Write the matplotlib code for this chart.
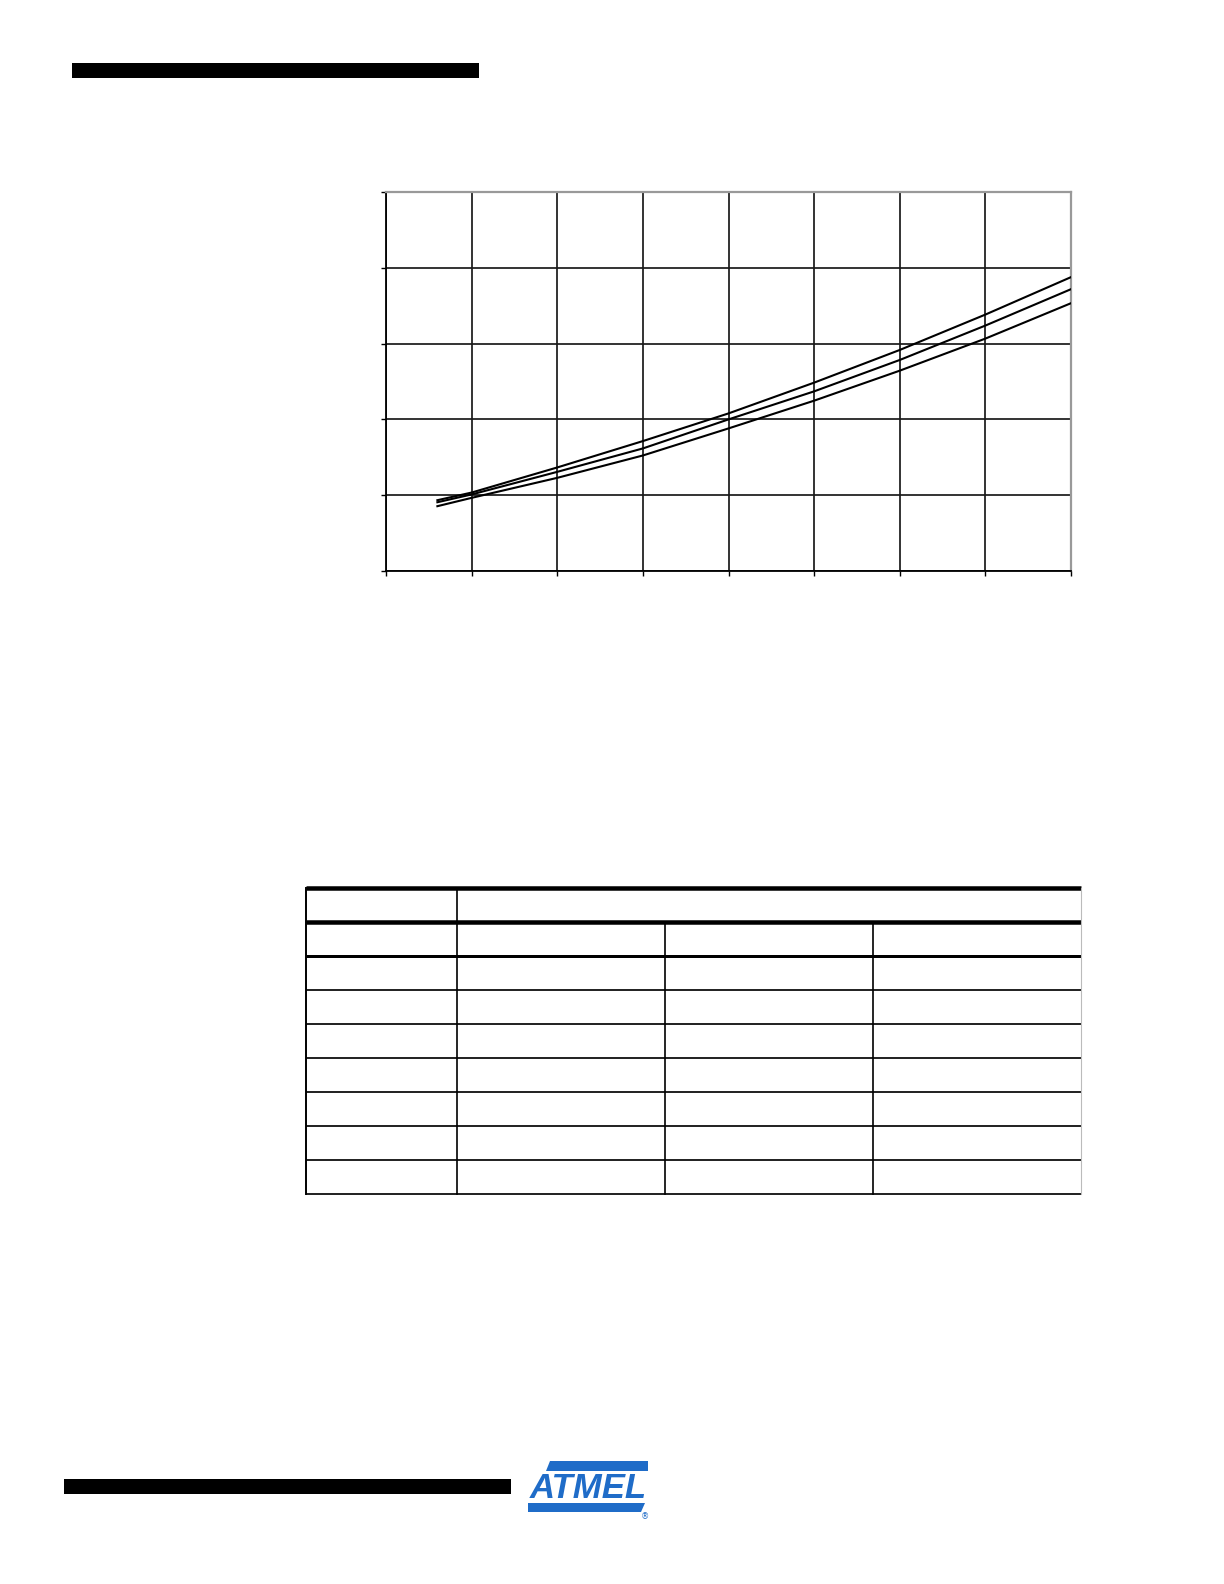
import matplotlib
matplotlib.use("Agg")
import matplotlib.pyplot as plt
from matplotlib.patches import Rectangle, Polygon

# ---- data ----
vcc = [1.8, 2.0, 2.5, 3.0, 3.5, 4.0, 4.5, 5.0, 5.5]
curve_top = [0.934, 1.035, 1.366, 1.714, 2.079, 2.485, 2.916, 3.383, 3.877]
curve_mid = [0.907, 1.010, 1.308, 1.617, 2.000, 2.370, 2.784, 3.238, 3.718]
curve_bot = [0.855, 0.965, 1.229, 1.524, 1.881, 2.247, 2.643, 3.066, 3.533]
x_ticks = [1.5, 2.0, 2.5, 3.0, 3.5, 4.0, 4.5, 5.0, 5.5]
y_ticks = [0, 1, 2, 3, 4, 5]

W, H = 1224, 1584
fig = plt.figure(figsize=(W / 100, H / 100), dpi=100)
fig.patch.set_facecolor("white")

# ---- overlay in pixel coordinates for page decorations ----
ov = fig.add_axes([0, 0, 1, 1])
ov.set_xlim(0, W)
ov.set_ylim(H, 0)
ov.axis("off")

# header bar
ov.add_patch(Rectangle((72, 63), 407, 15, color="black", lw=0))
# footer bar
ov.add_patch(Rectangle((64, 1479), 447, 15, color="black", lw=0))

# ---- table (empty cells) ----
tl, tr = 306, 1081
col_x = [306, 457, 665, 873, 1081]
row_y = [888, 922, 956, 990, 1024, 1058, 1092, 1126, 1160, 1194]
lw_px = {888: 4.5, 922: 4.5, 956: 3.0}
for y in row_y:
    ov.plot([tl, tr], [y, y], color="black", lw=lw_px.get(y, 1.7) * 0.72,
            solid_capstyle="butt")
ov.plot([col_x[0], col_x[0]], [row_y[0], row_y[-1]], color="black", lw=1.4)
ov.plot([col_x[1], col_x[1]], [row_y[0], row_y[-1]], color="black", lw=1.2)
for x in col_x[2:4]:
    ov.plot([x, x], [row_y[1], row_y[-1]], color="black", lw=1.2)
ov.plot([col_x[-1], col_x[-1]], [row_y[0], row_y[-1]], color="#bbbbbb", lw=0.8)

# ---- Atmel logo ----
blue = "#1f6cc8"
ov.add_patch(Polygon([(550, 1461), (648, 1461), (648, 1471), (546, 1471)],
                     closed=True, color=blue, lw=0))
ov.add_patch(Polygon([(528, 1503), (645, 1503), (641, 1512), (528, 1512)],
                     closed=True, color=blue, lw=0))
ov.text(588, 1488, "ATMEL", color=blue, fontsize=25, fontweight="bold",
        style="italic", family=["Liberation Sans", "DejaVu Sans"],
        ha="center", va="center")
ov.text(645, 1517, "®", color=blue, fontsize=6, ha="center", va="center")

# ---- chart ----
left, right, top, bottom = 386, 1071, 192, 571
ax = fig.add_axes([left / W, 1 - bottom / H, (right - left) / W, (bottom - top) / H])
for yv in (curve_top, curve_mid, curve_bot):
    ax.plot(vcc, yv, color="black", lw=1.5, zorder=3)

ax.set_xlim(x_ticks[0], x_ticks[-1])
ax.set_ylim(y_ticks[0], y_ticks[-1])
ax.set_xticks(x_ticks)
ax.set_yticks(y_ticks)
ax.set_xticklabels([])
ax.set_yticklabels([])
ax.tick_params(axis="both", direction="out", length=3.5, width=1.0, color="black")
ax.grid(True, color="#1a1a1a", lw=1.25)
ax.spines["left"].set_color("black")
ax.spines["bottom"].set_color("black")
ax.spines["left"].set_linewidth(1.3)
ax.spines["bottom"].set_linewidth(1.3)
ax.spines["top"].set_color("#999999")
ax.spines["right"].set_color("#999999")
ax.spines["top"].set_linewidth(1.6)
ax.spines["right"].set_linewidth(1.6)

fig.savefig("out.png", dpi=100, facecolor="white")
